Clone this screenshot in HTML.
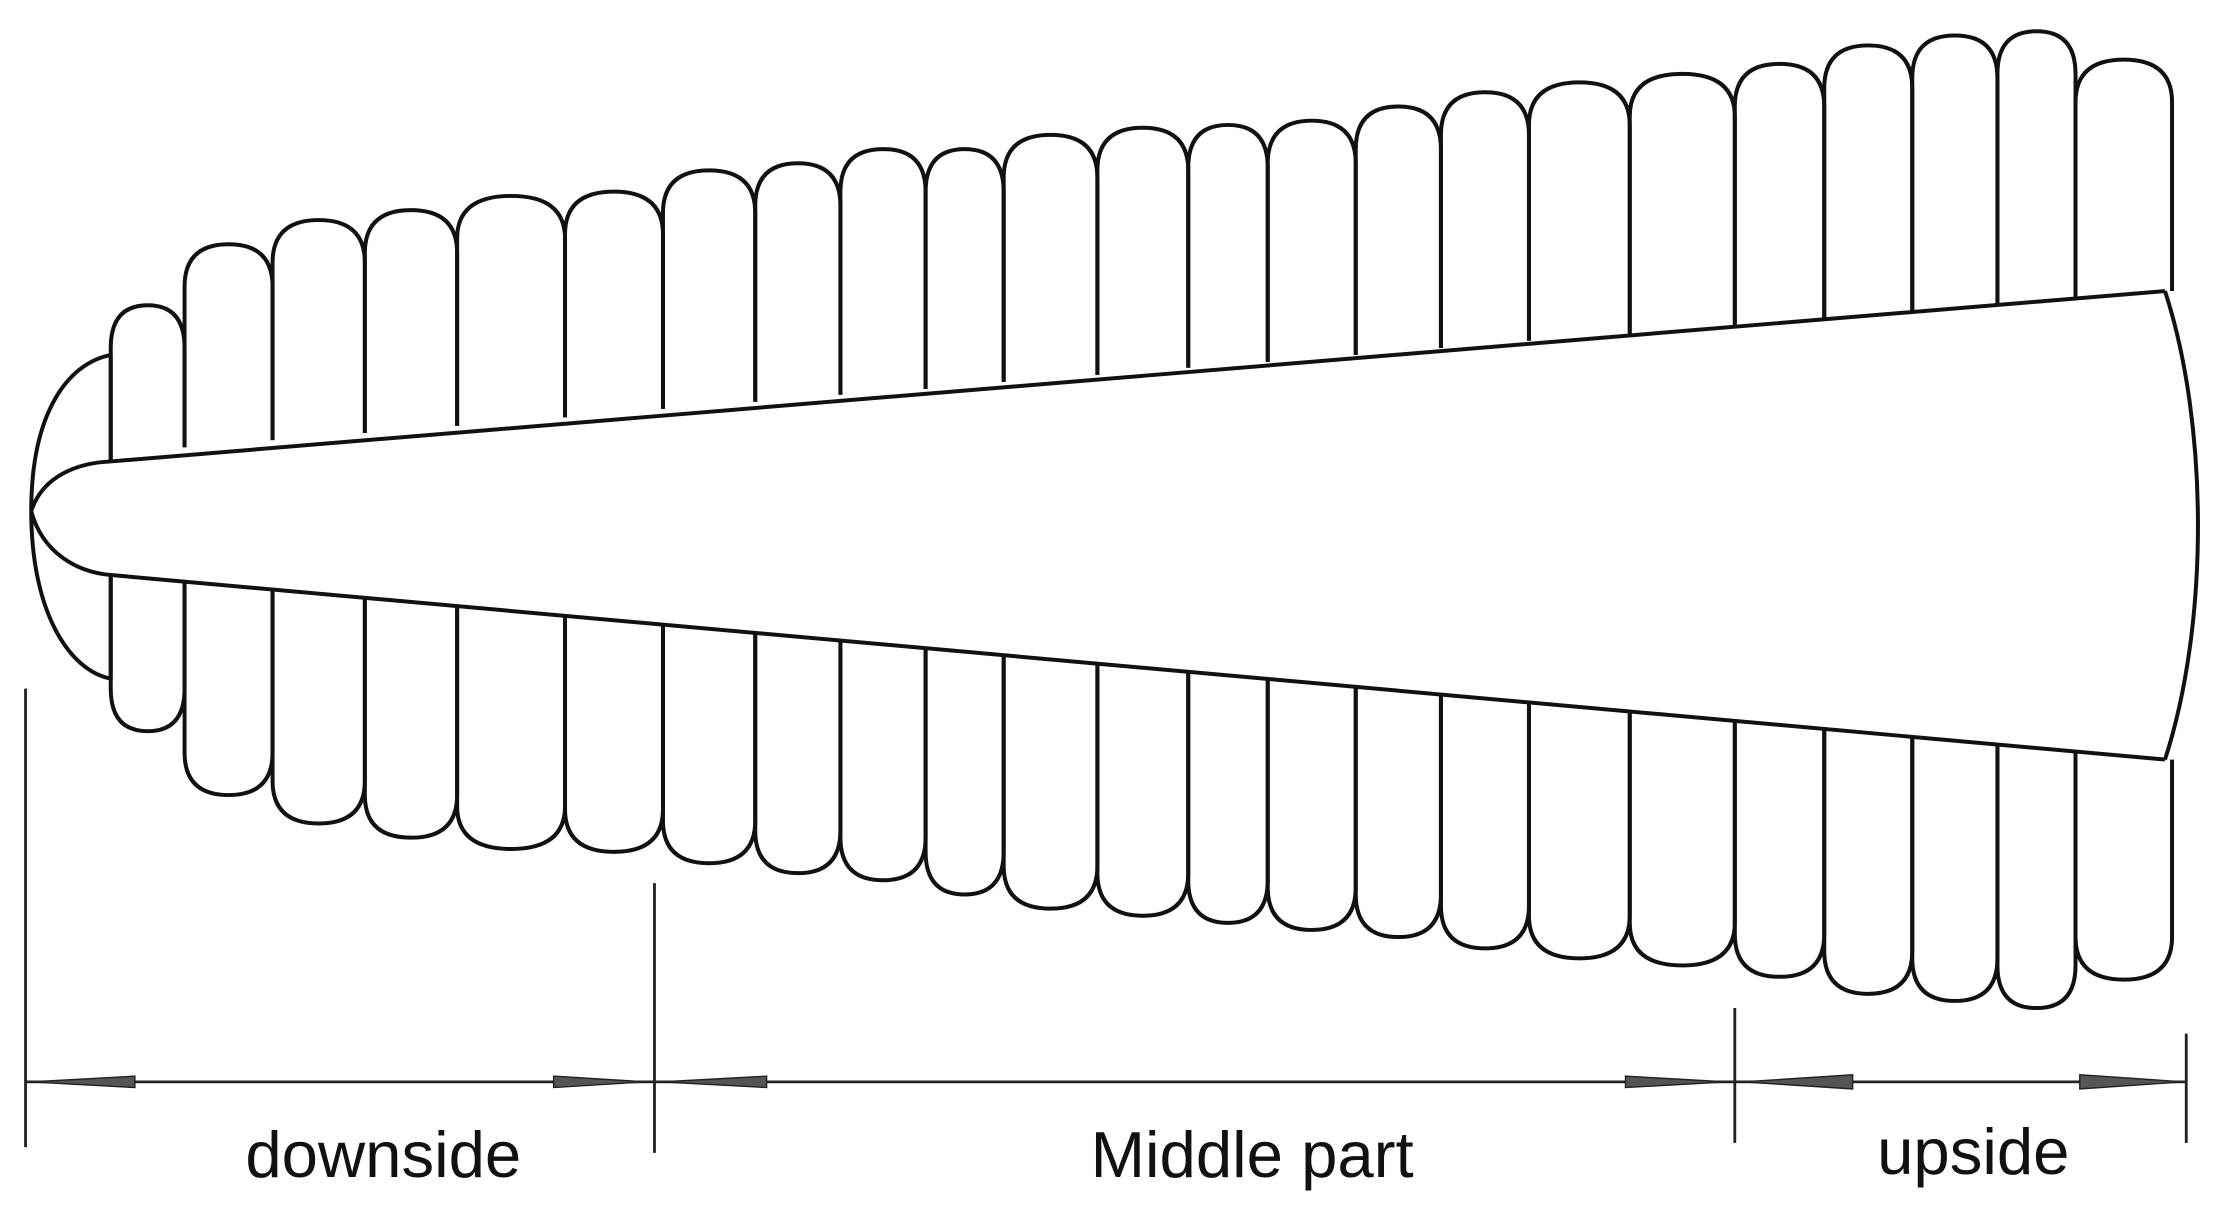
<!DOCTYPE html>
<html><head><meta charset="utf-8"><style>
html,body{margin:0;padding:0;background:#fff;}
svg{display:block;}
</style></head><body>
<svg width="2226" height="1221" viewBox="0 0 1568 860" preserveAspectRatio="none" xmlns="http://www.w3.org/2000/svg">
<rect width="1568" height="860" fill="#fff"/>
<g fill="none" stroke="#111" stroke-width="2.8" stroke-linejoin="round">
<path d="M22,360 C22,290 48,256 78,250 L78,325"/>
<path d="M22,360 C22,430 48,472 78,478 L78,405"/>
<path d="M78,325 V245 Q78,215 104,215 Q130,215 130,245 V315"/>
<path d="M130,315 V202 Q130,172 161,172 Q192,172 192,202 V310"/>
<path d="M192,310 V185 Q192,155 224.5,155 Q257,155 257,185 V305"/>
<path d="M257,305 V178 Q257,148 289.5,148 Q322,148 322,178 V300"/>
<path d="M322,300 V168 Q322,138 360,138 Q398,138 398,168 V294"/>
<path d="M398,294 V165 Q398,135 432.5,135 Q467,135 467,165 V288"/>
<path d="M467,288 V150 Q467,120 499.5,120 Q532,120 532,150 V283"/>
<path d="M532,283 V145 Q532,115 562,115 Q592,115 592,145 V278"/>
<path d="M592,278 V135 Q592,105 622,105 Q652,105 652,135 V274"/>
<path d="M652,274 V135 Q652,105 679.5,105 Q707,105 707,135 V269"/>
<path d="M707,269 V125 Q707,95 740,95 Q773,95 773,125 V264"/>
<path d="M773,264 V120 Q773,90 805,90 Q837,90 837,120 V259"/>
<path d="M837,259 V118 Q837,88 865,88 Q893,88 893,118 V255"/>
<path d="M893,255 V115 Q893,85 924,85 Q955,85 955,115 V250"/>
<path d="M955,250 V105 Q955,75 985,75 Q1015,75 1015,105 V245"/>
<path d="M1015,245 V95 Q1015,65 1046,65 Q1077,65 1077,95 V240"/>
<path d="M1077,240 V88 Q1077,58 1112.5,58 Q1148,58 1148,88 V235"/>
<path d="M1148,235 V82 Q1148,52 1185,52 Q1222,52 1222,82 V229"/>
<path d="M1222,229 V75 Q1222,45 1253.5,45 Q1285,45 1285,75 V224"/>
<path d="M1285,224 V62 Q1285,32 1316,32 Q1347,32 1347,62 V219"/>
<path d="M1347,219 V55 Q1347,25 1377,25 Q1407,25 1407,55 V214"/>
<path d="M1407,214 V52 Q1407,22 1434.5,22 Q1462,22 1462,52 V210"/>
<path d="M1462,210 V72 Q1462,42 1496,42 Q1530,42 1530,72 V205"/>
<path d="M78,405 V485 Q78,515 104,515 Q130,515 130,485 V410"/>
<path d="M130,410 V530 Q130,560 161,560 Q192,560 192,530 V416"/>
<path d="M192,416 V550 Q192,580 224.5,580 Q257,580 257,550 V421"/>
<path d="M257,421 V560 Q257,590 289.5,590 Q322,590 322,560 V427"/>
<path d="M322,427 V568 Q322,598 360,598 Q398,598 398,568 V434"/>
<path d="M398,434 V570 Q398,600 432.5,600 Q467,600 467,570 V440"/>
<path d="M467,440 V578 Q467,608 499.5,608 Q532,608 532,578 V446"/>
<path d="M532,446 V585 Q532,615 562,615 Q592,615 592,585 V451"/>
<path d="M592,451 V590 Q592,620 622,620 Q652,620 652,590 V457"/>
<path d="M652,457 V600 Q652,630 679.5,630 Q707,630 707,600 V462"/>
<path d="M707,462 V610 Q707,640 740,640 Q773,640 773,610 V468"/>
<path d="M773,468 V615 Q773,645 805,645 Q837,645 837,615 V473"/>
<path d="M837,473 V620 Q837,650 865,650 Q893,650 893,620 V478"/>
<path d="M893,478 V625 Q893,655 924,655 Q955,655 955,625 V484"/>
<path d="M955,484 V630 Q955,660 985,660 Q1015,660 1015,630 V489"/>
<path d="M1015,489 V638 Q1015,668 1046,668 Q1077,668 1077,638 V495"/>
<path d="M1077,495 V645 Q1077,675 1112.5,675 Q1148,675 1148,645 V501"/>
<path d="M1148,501 V650 Q1148,680 1185,680 Q1222,680 1222,650 V508"/>
<path d="M1222,508 V658 Q1222,688 1253.5,688 Q1285,688 1285,658 V514"/>
<path d="M1285,514 V670 Q1285,700 1316,700 Q1347,700 1347,670 V519"/>
<path d="M1347,519 V675 Q1347,705 1377,705 Q1407,705 1407,675 V524"/>
<path d="M1407,524 V680 Q1407,710 1434.5,710 Q1462,710 1462,680 V529"/>
<path d="M1462,529 V660 Q1462,690 1496,690 Q1530,690 1530,660 V535"/>
<path d="M22,360 C30,335 55,326 78,325 L1525,205"/>
<path d="M22,360 C30,390 55,403 78,405 L1525,535"/>
<path d="M1525,205 C1556,300 1556,440 1525,535"/>
</g>
<g stroke="#222" stroke-width="2">
<line x1="18" y1="485" x2="18" y2="808"/>
<line x1="461" y1="622" x2="461" y2="812"/>
<line x1="1222" y1="710" x2="1222" y2="805"/>
<line x1="1540" y1="728" x2="1540" y2="805"/>
<line x1="18" y1="762" x2="1540" y2="762"/>
</g>
<g fill="#555" stroke="#222" stroke-width="1">
<polygon points="22,762 95,758 95,766"/>
<polygon points="455,762 390,758 390,766"/>
<polygon points="466,762 540,758 540,766"/>
<polygon points="1216,762 1145,758 1145,766"/>
<polygon points="1228,762 1305,757 1305,767"/>
<polygon points="1538,762 1465,757 1465,767"/>
</g>
<g font-family="Liberation Sans, sans-serif" font-size="46" fill="#111" text-anchor="middle">
<text x="270" y="829">downside</text>
<text x="882" y="829">Middle part</text>
<text x="1390" y="827">upside</text>
</g>
</svg>
</body></html>
